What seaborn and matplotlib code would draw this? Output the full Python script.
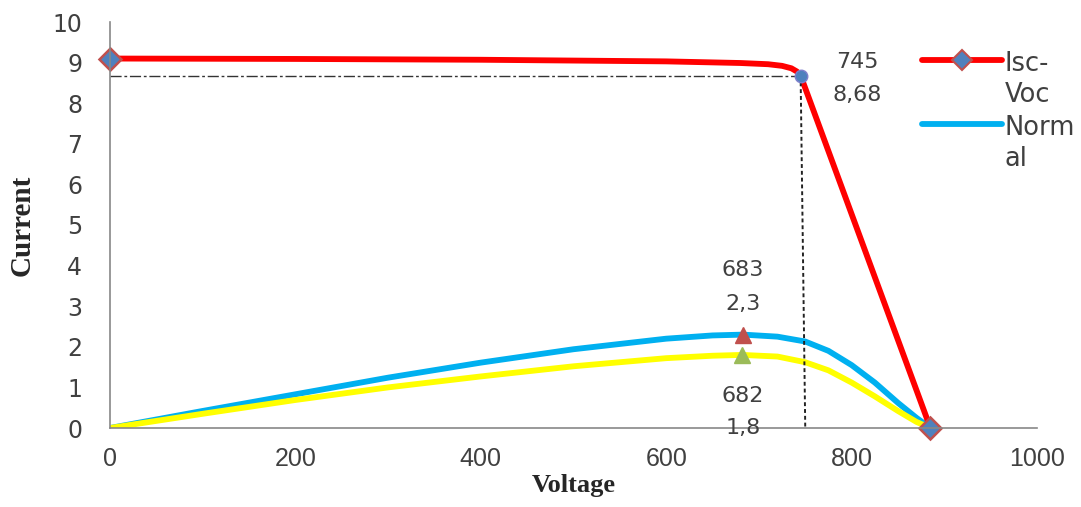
import numpy as np
import pandas as pd
import seaborn as sns
import matplotlib.pyplot as plt
from matplotlib.lines import Line2D

sns.set_style("white")
plt.rcParams['font.family'] = ['DejaVu Sans']

# Data
isc_v = [0, 200, 400, 600, 680, 710, 725, 735, 741, 745, 885]
isc_i = [9.1, 9.09, 9.07, 9.03, 8.99, 8.96, 8.92, 8.86, 8.78, 8.68, 0.0]

normal_v = [0, 100, 200, 300, 400, 500, 600, 650, 683, 720, 750, 775, 800, 825, 850, 870, 885]
normal_i = [0, 0.42, 0.83, 1.24, 1.61, 1.94, 2.2, 2.28, 2.3, 2.25, 2.13, 1.9, 1.55, 1.12, 0.62, 0.25, 0]

low_v = [0, 100, 200, 300, 400, 500, 600, 650, 682, 720, 750, 775, 800, 825, 850, 870, 885]
low_i = [0, 0.35, 0.69, 1.0, 1.27, 1.52, 1.72, 1.78, 1.8, 1.76, 1.62, 1.42, 1.12, 0.78, 0.42, 0.15, 0]

mpp_isc = (745, 8.68)
mpp_normal = (683, 2.3)
mpp_low = (682, 1.8)

fig = plt.figure(figsize=(10.81, 5.07), dpi=100)
ax = fig.add_axes([110/1081, 1 - 428/507, (1037-110)/1081, (428-22)/507])

RED = "#FF0000"
BLUE = "#00B0F0"
YEL = "#FFFF00"

sns.lineplot(x=normal_v, y=normal_i, ax=ax, color=BLUE, lw=4.2, sort=False)
sns.lineplot(x=low_v, y=low_i, ax=ax, color=YEL, lw=4.2, sort=False)
sns.lineplot(x=isc_v, y=isc_i, ax=ax, color=RED, lw=4.2, sort=False)

# guide lines
ax.plot([0, mpp_isc[0]], [mpp_isc[1], mpp_isc[1]], color="#333333", lw=1.0, ls=(0, (8, 2, 2, 2)))
ax.plot([mpp_isc[0], 750], [mpp_isc[1], 0], color="#222222", lw=1.4, ls=(0, (2, 1.5)))

# markers
ax.plot([isc_v[0], isc_v[-1]], [isc_i[0], isc_i[-1]], ls="none", marker="D", ms=11,
        mfc="#4F81BD", mec="#C0504D", mew=1.8, clip_on=False)
ax.plot([mpp_isc[0]], [mpp_isc[1]], ls="none", marker="o", ms=9, mfc="#4F81BD", mec="#7F7FCC", mew=1)
ax.plot([mpp_normal[0]], [mpp_normal[1]], ls="none", marker="^", ms=12, mfc="#C0504D", mec="#C0504D")
ax.plot([mpp_low[0]], [mpp_low[1]], ls="none", marker="^", ms=12, mfc="#9BBB59", mec="#9BBB59")

lab_font = dict(fontsize=16, color="#404040", ha="center", va="center", family="DejaVu Sans")
ax.text(806, 9.02, "745", **lab_font)
ax.text(806, 8.2, "8,68", **lab_font)
ax.text(683, 3.9, "683", **lab_font)
ax.text(683, 3.05, "2,3", **lab_font)
ax.text(683, 0.8, "682", **lab_font)
ax.text(683, 0.0, "1,8", **lab_font)

ax.set_xlim(0, 1000)
ax.set_ylim(0, 10)
ax.set_xticks(range(0, 1001, 200))
ax.set_yticks(range(0, 11))
for s in ["top", "right"]:
    ax.spines[s].set_visible(False)
for s in ["left", "bottom"]:
    ax.spines[s].set_color("#888888")
    ax.spines[s].set_linewidth(1.2)
ax.tick_params(axis="both", which="major", direction="out", length=6, width=1, color="#888888",
               colors="#404040")
ax.tick_params(axis="y", labelsize=17, pad=14)
ax.tick_params(axis="x", labelsize=18, pad=8)
for t in ax.get_xticklabels():
    t.set_family(["Liberation Sans Narrow", "Liberation Sans"])
for t in ax.get_yticklabels():
    t.set_family("DejaVu Sans")

ax.set_xlabel("Voltage", family="Liberation Serif", fontweight="bold", fontsize=19, labelpad=2)
ax.set_ylabel("Current", family="Liberation Serif", fontweight="bold", fontsize=21, labelpad=12)

handles = [Line2D([], [], color=RED, lw=4.2, marker="D", ms=10, mfc="#4F81BD", mec="#C0504D", mew=1.5),
           Line2D([], [], color=BLUE, lw=4.2)]
leg = ax.legend(handles, ["Isc-\nVoc", "Norm\nal"], loc="upper left", bbox_to_anchor=(0.865, 0.955),
                frameon=False, fontsize=18.5, handlelength=3.1, handletextpad=0.1, labelspacing=0.3,
                borderaxespad=0)
for t in leg.get_texts():
    t.set_color("#404040")
    t.set_linespacing(1.25)
for col in leg._legend_handle_box.get_children():
    for hp in col.get_children():
        hp.align = "top"

fig.savefig("out.png", dpi=100)
